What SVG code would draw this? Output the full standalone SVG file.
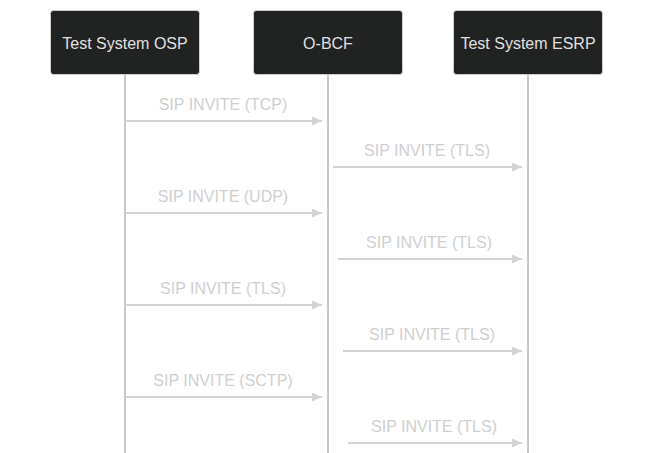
<svg xmlns="http://www.w3.org/2000/svg" width="653" height="453" viewBox="0 0 653 453">
<style>
.actor rect{fill:#212222;stroke:#cfcfcf;stroke-width:1}
.actor text{fill:#e0e0e0;font-family:"Liberation Sans",Arial,sans-serif;font-size:16px;text-anchor:middle}
.life{stroke:#c8c8c8;stroke-width:2}
.msg line{stroke:#d3d3d3;stroke-width:2}
.msg text{fill:#cfcfcf;font-family:"Liberation Sans",Arial,sans-serif;font-size:16px;text-anchor:middle}
</style>
<defs>
<marker id="ah" markerWidth="10" markerHeight="9" refX="10" refY="4.5" orient="auto" markerUnits="userSpaceOnUse">
<path d="M0,0 L10,4.5 L0,9 z" fill="#d3d3d3"/>
</marker>
</defs>
<rect width="653" height="453" fill="#ffffff"/>
<g id="lifelines">
<line class="life" x1="125" y1="74" x2="125" y2="453"/>
<line class="life" x1="328" y1="74" x2="328" y2="453"/>
<line class="life" x1="528" y1="74" x2="528" y2="453"/>
</g>
<g id="osp" class="actor"><rect x="50.5" y="10.5" width="149" height="64" rx="3"/><text x="125" y="49">Test System OSP</text></g>
<g id="obcf" class="actor"><rect x="253.5" y="10.5" width="149" height="64" rx="3"/><text x="328" y="49">O-BCF</text></g>
<g id="esrp" class="actor"><rect x="453.5" y="10.5" width="149" height="64" rx="3"/><text x="528" y="49">Test System ESRP</text></g>
<g id="connectors" class="msg">
<text x="223" y="110">SIP INVITE (TCP)</text>
<line x1="125" y1="121" x2="322" y2="121" marker-end="url(#ah)"/>
<text x="427" y="156">SIP INVITE (TLS)</text>
<line x1="333" y1="167" x2="522" y2="167" marker-end="url(#ah)"/>
<text x="223" y="202">SIP INVITE (UDP)</text>
<line x1="125" y1="213" x2="322" y2="213" marker-end="url(#ah)"/>
<text x="429" y="248">SIP INVITE (TLS)</text>
<line x1="338" y1="259" x2="522" y2="259" marker-end="url(#ah)"/>
<text x="223" y="294">SIP INVITE (TLS)</text>
<line x1="125" y1="305" x2="322" y2="305" marker-end="url(#ah)"/>
<text x="432" y="340">SIP INVITE (TLS)</text>
<line x1="343" y1="351" x2="522" y2="351" marker-end="url(#ah)"/>
<text x="223" y="386">SIP INVITE (SCTP)</text>
<line x1="125" y1="397" x2="322" y2="397" marker-end="url(#ah)"/>
<text x="434" y="432">SIP INVITE (TLS)</text>
<line x1="348" y1="443" x2="522" y2="443" marker-end="url(#ah)"/>
</g>
</svg>
